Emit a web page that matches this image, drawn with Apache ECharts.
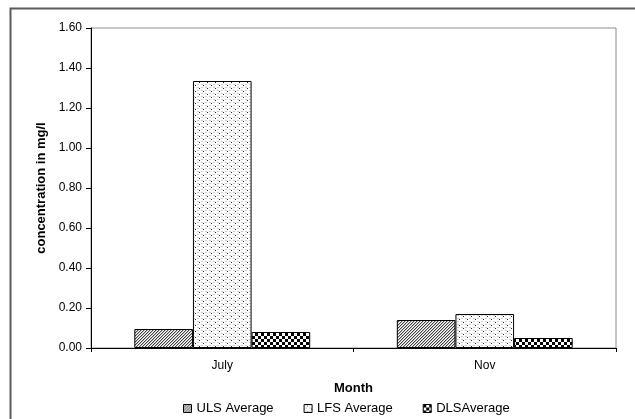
<!DOCTYPE html>
<html>
<head>
<meta charset="utf-8">
<script src="https://cdn.jsdelivr.net/npm/echarts@6/dist/echarts.min.js"></script>
<style>html,body{margin:0;padding:0;background:#fff}#c{width:635px;height:419px}</style>
</head>
<body>
<div id="c"></div>
<script>
const categories = ['July', 'Nov'];
const seriesNames = ['ULS Average', 'LFS Average', 'DLSAverage'];
const ulsValues = [0.095, 0.14];
const lfsValues = [1.335, 0.17];
const dlsValues = [0.08, 0.05];
const yTicks = [0, 0.2, 0.4, 0.6, 0.8, 1.0, 1.2, 1.4, 1.6];

function makePattern(kind) {
  const c = document.createElement('canvas');
  const ctx = c.getContext('2d');
  if (kind === 'hatch') {
    c.width = 3; c.height = 3;
    ctx.fillStyle = '#fff'; ctx.fillRect(0, 0, 3, 3);
    ctx.fillStyle = '#444';
    for (let i = 0; i < 3; i++) { ctx.fillRect(2 - i, i, 1, 1); }
    ctx.fillStyle = '#bbb';
    for (let i = 0; i < 3; i++) { ctx.fillRect((3 - i) % 3, i, 1, 1); }
  } else if (kind === 'dots') {
    c.width = 8; c.height = 6;
    ctx.fillStyle = '#fff'; ctx.fillRect(0, 0, 8, 6);
    ctx.fillStyle = '#cfcfcf';
    ctx.fillRect(1, 0, 2, 1); ctx.fillRect(5, 0, 2, 1);
    ctx.fillRect(1, 3, 2, 1); ctx.fillRect(5, 3, 2, 1);
    ctx.fillStyle = '#222';
    ctx.fillRect(3, 1, 1, 1); ctx.fillRect(7, 4, 1, 1);
  } else {
    c.width = 6; c.height = 6;
    ctx.fillStyle = '#fff'; ctx.fillRect(0, 0, 6, 6);
    ctx.fillStyle = '#000';
    ctx.fillRect(0, 0, 3, 3); ctx.fillRect(3, 3, 3, 3);
  }
  return { image: c, repeat: 'repeat' };
}

const patterns = [makePattern('hatch'), makePattern('dots'), makePattern('check')];
const values = [ulsValues, lfsValues, dlsValues];

const font = 'Liberation Sans, Arial, sans-serif';
const chart = echarts.init(document.getElementById('c'), null, { renderer: 'canvas' });
chart.setOption({
  animation: false,
  backgroundColor: '#fff',
  textStyle: { fontFamily: font },
  graphic: [{
    type: 'rect', left: 8, top: 6, silent: true, z: -10,
    shape: { width: 700, height: 500 },
    style: { fill: 'none', stroke: '#5a5a5a', lineWidth: 2 }
  }],
  grid: { left: 91, right: 19, top: 28, bottom: 71, show: true, borderColor: '#8c8c8c', borderWidth: 1, backgroundColor: '#fff' },
  legend: {
    bottom: 4, left: 183, padding: 0, itemWidth: 8, itemHeight: 8, itemGap: 30,
    textStyle: { fontFamily: font, fontSize: 13, color: '#000' },
    data: seriesNames.map((n, i) => ({ name: n, icon: 'rect', itemStyle: { color: patterns[i], borderColor: '#000', borderWidth: 1 } }))
  },
  xAxis: {
    type: 'category', data: categories,
    name: 'Month', nameLocation: 'middle', nameGap: 34,
    nameTextStyle: { fontFamily: font, fontSize: 13, fontWeight: 'bold', color: '#000' },
    axisLine: { lineStyle: { color: '#000', width: 1 } },
    axisTick: { show: true, length: 4, alignWithLabel: false, lineStyle: { color: '#000' } },
    axisLabel: { margin: 12, fontFamily: font, fontSize: 12, color: '#000' }
  },
  yAxis: {
    type: 'value', min: 0, max: 1.6, interval: 0.2,
    name: 'concentration in mg/l', nameLocation: 'middle', nameGap: 42, nameRotate: 90,
    nameTextStyle: { fontFamily: font, fontSize: 13, fontWeight: 'bold', color: '#000' },
    axisLine: { show: true, lineStyle: { color: '#000', width: 1 } },
    axisTick: { show: true, length: 5, lineStyle: { color: '#000' } },
    splitLine: { show: false },
    axisLabel: { margin: 9, fontFamily: font, fontSize: 12, color: '#000', formatter: v => v.toFixed(2) }
  },
  series: seriesNames.map((n, i) => ({
    name: n, type: 'bar', data: values[i],
    barGap: '0%', barCategoryGap: '33%',
    itemStyle: { color: patterns[i], borderColor: '#000', borderWidth: 1 }
  }))
});
</script>
</body>
</html>
